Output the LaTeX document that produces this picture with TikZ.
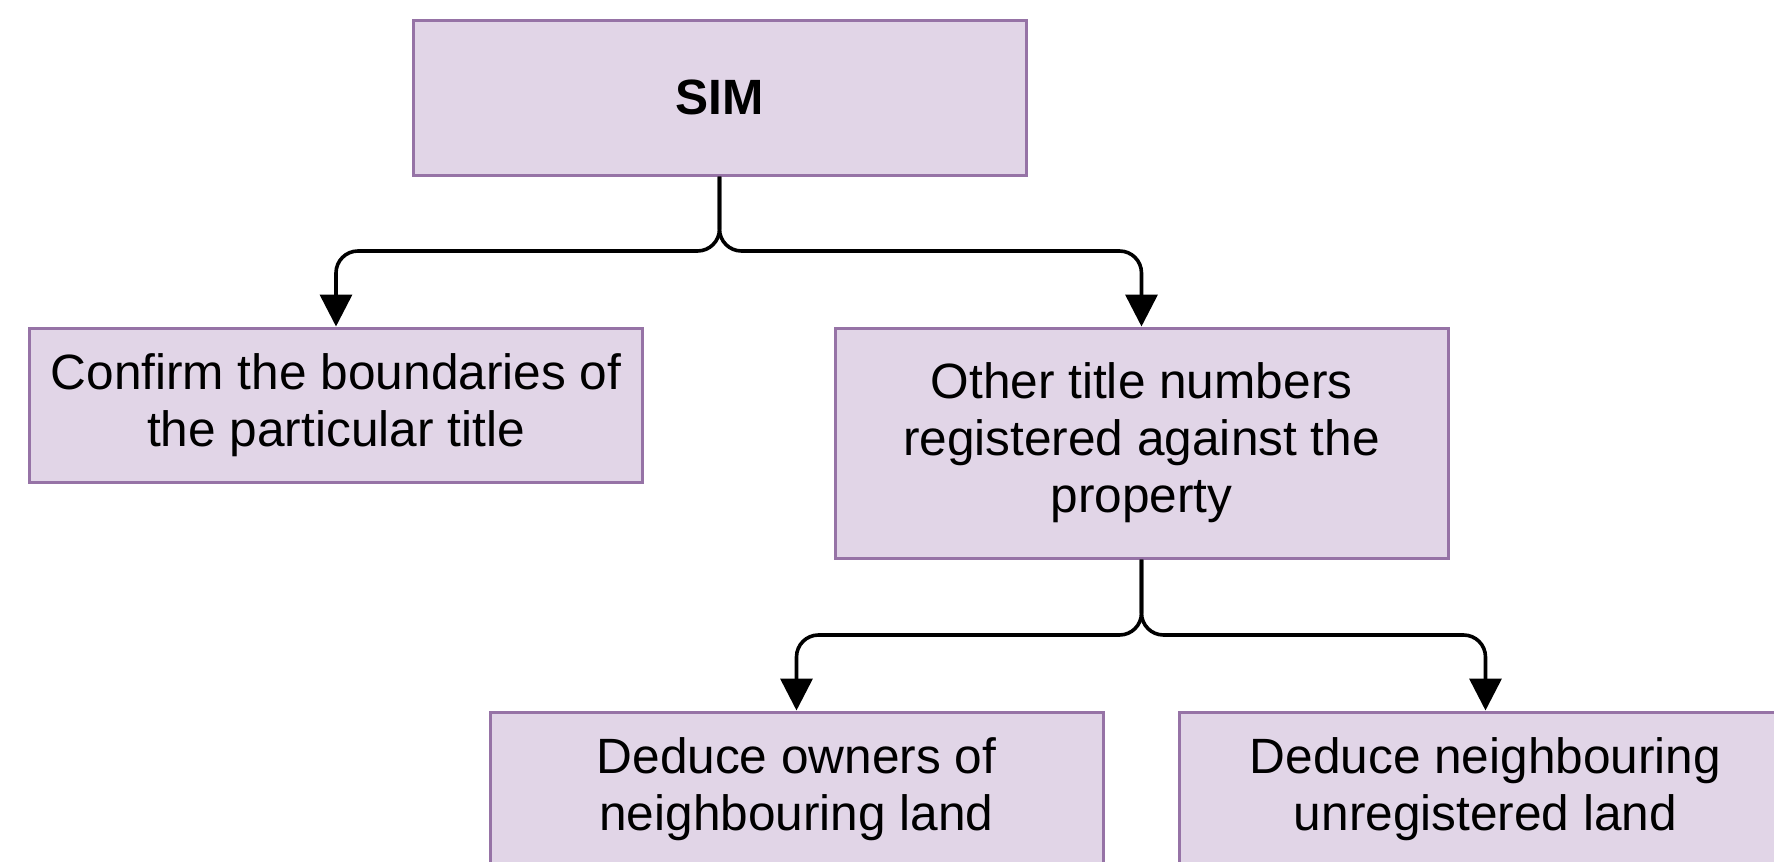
\documentclass[tikz,border=0pt]{standalone}
\usepackage{fontspec}
\setmainfont{Liberation Sans}
\usepackage{xcolor}
\usetikzlibrary{arrows.meta}

\definecolor{boxfill}{HTML}{E1D5E7}
\definecolor{boxline}{HTML}{9673A6}

\begin{document}
\begin{tikzpicture}[x=0.5pt, y=-0.5pt,
		box/.style={draw=boxline, fill=boxfill, line width=1.5pt, inner sep=0pt,
			minimum width=306.5pt, align=center,
			font=\fontsize{24.8}{28.5}\selectfont},
		conn/.style={line width=1.8pt, rounded corners=11pt,
			-{Triangle[length=16pt, width=16pt]}}]
					\def\w{1774};
					\def\h{862};
					\def\splitA{251};
					\def\splitB{635};

					\useasboundingbox (0,0) rectangle (\w,\h);
					\clip (0,0) rectangle (\w,\h);

					\begin{scope}
						\node[box, minimum height=77.5pt, font=\fontsize{24.8}{28.5}\selectfont\bfseries] (sim) at (719.5,97.5) {SIM};
						\node[box, minimum height=77pt] (confirm) at (336,405) {Confirm the boundaries of\\the particular title};
						\node[box, minimum height=115pt] (other) at (1141.5,443) {Other title numbers\\registered against the\\property};
					\end{scope}

					\begin{scope}
						\node[box, minimum height=77pt] (owners) at (796.5,789) {Deduce owners of\\neighbouring land};
						\node[box, minimum height=77pt] (unreg) at (1485.5,789) {Deduce neighbouring\\unregistered land};
					\end{scope}

					\coordinate (forkA) at (719.5,\splitA);
					\coordinate (forkB) at (1141.5,\splitB);

					\draw[conn] (sim.south) -- (forkA) -| (confirm.north);
					\draw[conn] (sim.south) -- (forkA) -| (other.north);
					\draw[conn] (other.south) -- (forkB) -| (owners.north);
					\draw[conn] (other.south) -- (forkB) -| (unreg.north);
				\end{tikzpicture}
\end{document}
